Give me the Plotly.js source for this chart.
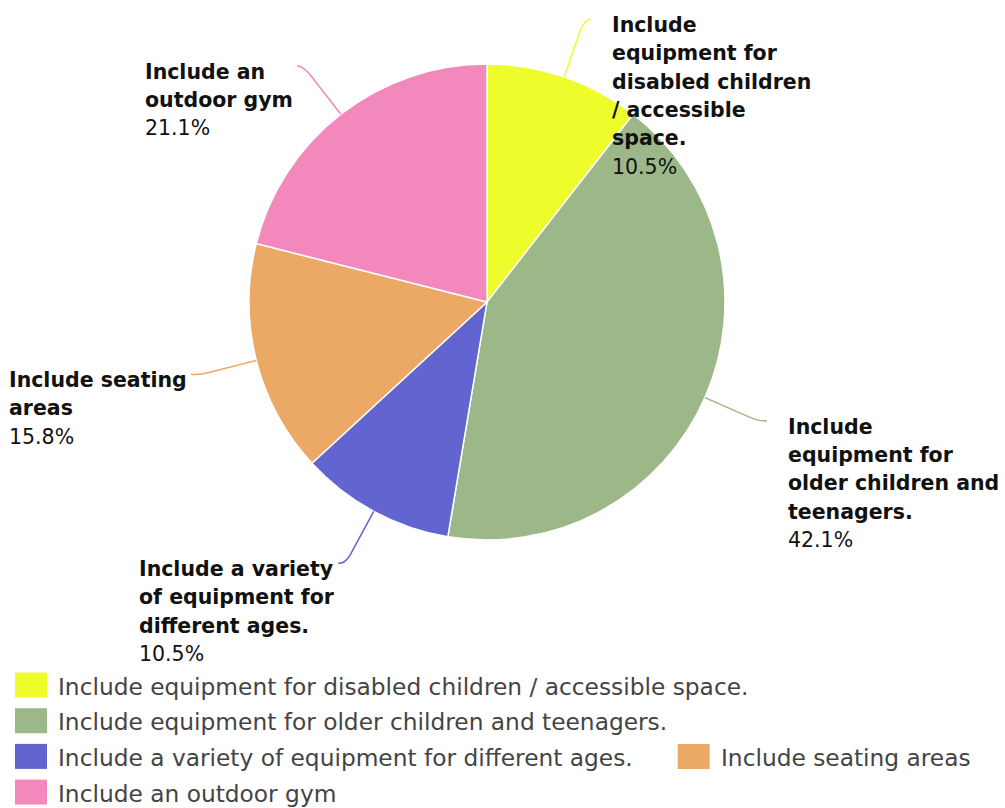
<!DOCTYPE html>
<html>
<head>
<meta charset="utf-8">
<script src="https://cdn.plot.ly/plotly-3.0.1.min.js"></script>
<style>html,body{margin:0;padding:0;background:#fff;}#chart{width:1005px;height:808px;}</style>
</head>
<body>
<div id="chart"></div>
<script>
// ---- data ----
const categories = [
  "Include equipment for disabled children / accessible space.",
  "Include equipment for older children and teenagers.",
  "Include a variety of equipment for different ages.",
  "Include seating areas",
  "Include an outdoor gym"
];
const labelLines = [
  ["Include", "equipment for", "disabled children", "/ accessible", "space."],
  ["Include", "equipment for", "older children and", "teenagers."],
  ["Include a variety", "of equipment for", "different ages."],
  ["Include seating", "areas"],
  ["Include an", "outdoor gym"]
];
const counts = [2, 8, 2, 3, 4];
const colors = ["#eefc2c", "#9cb888", "#6265cf", "#eca966", "#f288bb"];

// ---- layout constants ----
const W = 1005, H = 808;
const cx = 487, cy = 302, R = 238;
const LABEL_FONT = 20.5, LABEL_LH = 28.3;
const LEG_FONT = 23.3, LEG_TOP = 685, LEG_ROW = 35.7;
const px = x => x / W;
const py = y => 1 - y / H;

const total = counts.reduce((a, b) => a + b, 0);
const shapes = [];
const finalAnn = [];

const ctx = document.createElement("canvas").getContext("2d");
function textW(s, bold, size) {
  ctx.font = (bold ? "bold " : "") + size + 'px "DejaVu Sans"';
  return ctx.measureText(s.replace(/<[^>]+>/g, "")).width;
}

// ---- slice labels with connectors ----
let cum = 0;
counts.forEach((v, i) => {
  const mid = (cum + v / 2) / total * 2 * Math.PI;
  cum += v;
  const dx = Math.sin(mid), dy = -Math.cos(mid);
  const right = dx >= 0;
  const sgn = right ? 1 : -1;
  const p0 = [cx + R * dx, cy + R * dy];
  const p1 = [cx + (R + 48) * dx, cy + (R + 48) * dy];
  const pc = [cx + (R + 60) * dx, cy + (R + 60) * dy];
  const pe = [pc[0] + sgn * 7, pc[1] - 1];
  shapes.push({
    type: "path", xref: "paper", yref: "paper",
    path: `M${px(p0[0])},${py(p0[1])} L${px(p1[0])},${py(p1[1])} Q${px(pc[0])},${py(pc[1])} ${px(pe[0])},${py(pe[1])}`,
    line: {color: colors[i], width: 1.5}
  });
  const pct = (v / total * 100).toFixed(1) + "%";
  const lines = labelLines[i].map(s => "<b>" + s + "</b>").concat([pct]);
  const firstCenter = pe[1] + 6;
  let leftPx;
  if (right) {
    leftPx = pe[0] + 20;
  } else {
    const blockW = Math.max(...lines.map(s => textW(s, s.startsWith("<b>"), LABEL_FONT)));
    leftPx = pe[0] - 5 - blockW;
  }
  lines.forEach((s, k) => finalAnn.push({
    xref: "paper", yref: "paper",
    x: px(leftPx), y: py(firstCenter + k * LABEL_LH),
    xanchor: "left", yanchor: "middle", showarrow: false, text: s,
    font: {family: "DejaVu Sans", size: LABEL_FONT, color: "#111"}, borderpad: 0
  }));
});

// ---- legend (swatch + text, wrapped greedily across rows) ----
let lx = 15, row = 0;
categories.forEach((c, i) => {
  const tw = textW(c, false, LEG_FONT);
  const itemW = 43 + tw;
  if (lx > 15 && lx + itemW > W - 10) { row += 1; lx = 15; }
  const yc = LEG_TOP + row * LEG_ROW;
  shapes.push({
    type: "rect", xref: "paper", yref: "paper",
    x0: px(lx), x1: px(lx + 32), y0: py(yc - 12.5), y1: py(yc + 12.5),
    fillcolor: colors[i], line: {width: 0}
  });
  finalAnn.push({
    xref: "paper", yref: "paper",
    x: px(lx + 42), y: py(yc + 1), xanchor: "left", yanchor: "middle",
    showarrow: false, text: c, borderpad: 0,
    font: {family: "DejaVu Sans", size: LEG_FONT, color: "#444"}
  });
  lx += itemW + 45;
});

const data = [{
  type: "pie",
  labels: categories,
  values: counts,
  sort: false,
  direction: "clockwise",
  rotation: 0,
  textinfo: "none",
  hoverinfo: "label+percent",
  marker: {colors: colors, line: {color: "#ffffff", width: 1.5}},
  domain: {x: [px(cx - R), px(cx + R)], y: [py(cy + R), py(cy - R)]}
}];

const layout = {
  width: W, height: H,
  margin: {l: 0, r: 0, t: 0, b: 0},
  paper_bgcolor: "#fff",
  showlegend: false,
  annotations: finalAnn,
  shapes: shapes
};

Plotly.newPlot("chart", data, layout, {displayModeBar: false, staticPlot: true});
</script>
</body>
</html>
